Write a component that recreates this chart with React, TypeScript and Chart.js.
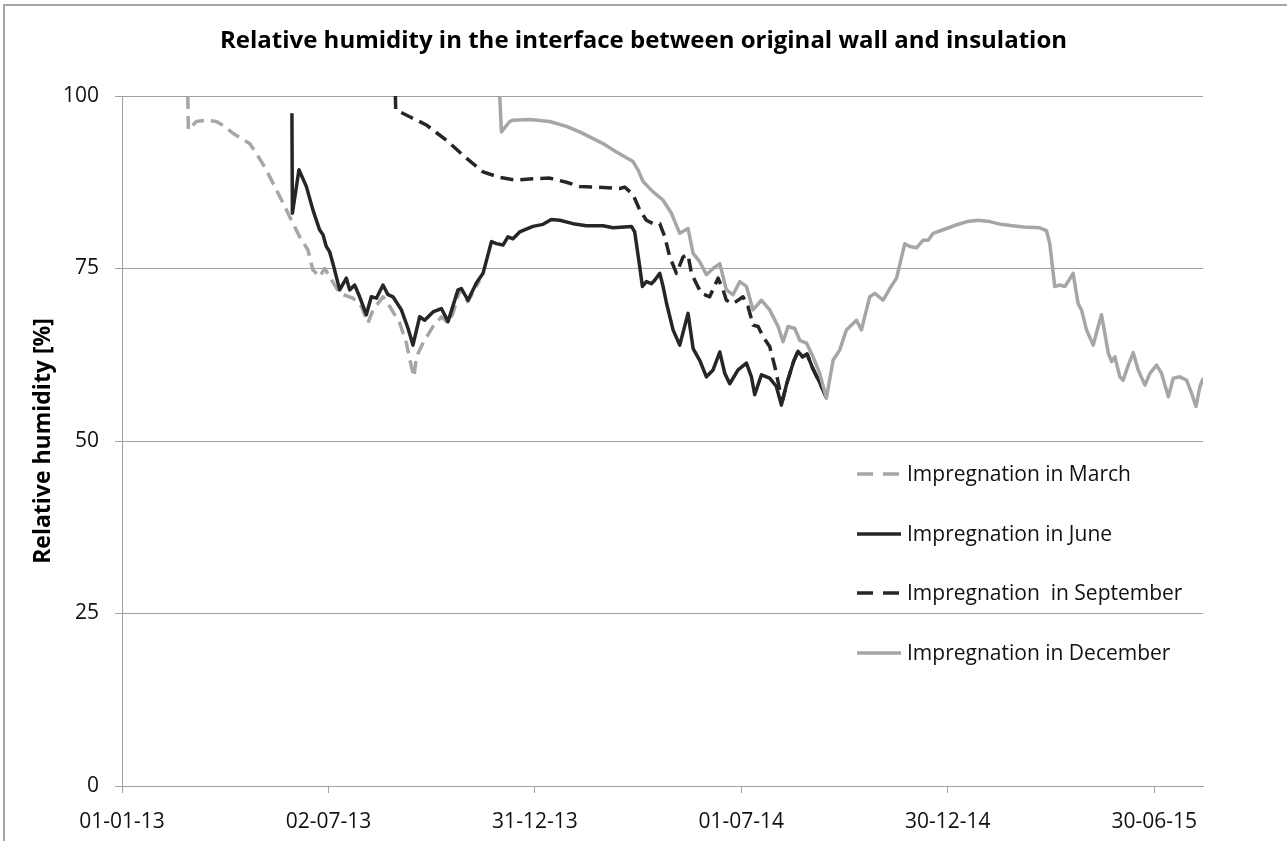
import React, { useEffect, useRef } from "react";
import { Chart, registerables } from "chart.js";

Chart.register(...registerables);

const chartTitle = "Relative humidity in the interface between original wall and insulation";
const yAxisTitle = "Relative humidity [%]";
const seriesLabels = [
  "Impregnation in March",
  "Impregnation in June",
  "Impregnation  in September",
  "Impregnation in December",
];
// x values are days since 01-01-13
const xTickDays = [0, 182, 364, 546, 728, 910];
const xTickLabels = ["01-01-13", "02-07-13", "31-12-13", "01-07-14", "30-12-14", "30-06-15"];
const yTicks = [0, 25, 50, 75, 100];

const marchDays = [58, 58.5, 65.5, 74.3, 83.2, 90.5, 97.8, 112.5, 118.4, 127.2, 136.1, 143.4, 149.3, 156.6, 163.9, 168.3, 174.2, 178.7, 183.1, 191.9, 203.6, 211.0, 216.8, 221.3, 230.1, 236.0, 244.8, 250.7, 255.1, 257.4, 259.5, 265.4, 274.2, 281.6, 287.4, 291.8, 297.7, 305.0, 315.3];
const marchRH = [100, 95.1, 96.3, 96.5, 96.3, 95.6, 94.6, 93.1, 91.7, 89.3, 86.4, 84.0, 82.0, 79.6, 77.7, 74.8, 73.8, 75.0, 73.8, 71.4, 70.7, 69.5, 67.1, 69.0, 70.9, 69.5, 67.1, 64.2, 60.8, 59.3, 62.2, 64.2, 66.6, 68.0, 67.1, 68.5, 71.9, 70.2, 73.3];

const juneDays = [149.8, 150.2, 156.0, 162.5, 168.3, 174.2, 177.2, 180.1, 183.1, 186.0, 191.9, 197.8, 200.7, 205.1, 209.5, 215.4, 219.8, 224.3, 230.1, 234.5, 238.9, 246.3, 252.2, 256.5, 262.4, 266.8, 274.2, 281.6, 287.4, 296.2, 299.2, 305.0, 312.4, 318.3, 325.7, 330.1, 335.9, 340.3, 344.7, 350.6, 362.3, 371.2, 378.5, 385.9, 397.6, 409.4, 424.1, 432.9, 449.1, 452.0, 456.4, 458.8, 462.3, 466.7, 469.6, 474.1, 477.0, 480.0, 485.8, 491.7, 499.0, 503.5, 509.3, 515.2, 521.1, 527.0, 531.4, 535.8, 543.1, 550.5, 554.9, 557.8, 563.7, 571.0, 576.9, 581.3, 586, 592, 596, 600, 604, 609, 615, 621];
const juneRH = [97.5, 83.0, 89.3, 86.9, 83.5, 80.6, 79.9, 78.2, 77.4, 75.7, 71.9, 73.6, 71.9, 72.6, 70.9, 68.3, 70.9, 70.7, 72.6, 71.2, 70.9, 69.0, 66.3, 63.9, 68.0, 67.5, 68.7, 69.2, 67.3, 71.9, 72.1, 70.4, 72.9, 74.3, 78.9, 78.6, 78.4, 79.6, 79.3, 80.3, 81.1, 81.4, 82.1, 82.0, 81.5, 81.2, 81.2, 80.9, 81.1, 80.3, 75.3, 72.4, 73.1, 72.8, 73.3, 74.3, 72.4, 70.0, 66.1, 63.9, 68.5, 63.4, 61.7, 59.3, 60.3, 62.9, 59.8, 58.3, 60.3, 61.3, 59.3, 56.7, 59.6, 59.1, 57.9, 55.2, 58.3, 61.5, 63.0, 62.2, 62.6, 60.5, 58.5, 56.3];

const septDays = [241.0, 241.3, 253.6, 268.3, 285.9, 303.6, 318.3, 333.0, 347.7, 362.3, 377.1, 391.8, 403.5, 418.2, 438.8, 443.2, 450.5, 456.4, 462.3, 468.2, 474.1, 478.5, 482.9, 488.8, 494.7, 499.0, 502.0, 506.4, 510.8, 518.1, 525.5, 529.9, 532.8, 538.7, 547.5, 551.9, 556.3, 560.8, 565.2, 571.0, 575.5, 579.9, 582.5, 586, 592, 596, 600, 604, 609, 615, 621];
const septRH = [100, 98.0, 97.0, 95.8, 93.6, 91.0, 89.0, 88.2, 87.8, 88.0, 88.1, 87.5, 86.9, 86.8, 86.6, 86.8, 85.7, 83.5, 82.0, 81.5, 81.5, 79.6, 76.7, 74.3, 76.7, 77.0, 74.3, 72.8, 71.4, 70.9, 73.6, 71.9, 70.4, 69.9, 70.9, 69.5, 66.8, 66.6, 65.1, 63.7, 60.8, 57.4, 56.0, 58.3, 61.5, 63.0, 62.2, 62.6, 60.5, 58.5, 56.3];

const decDays = [333.0, 334.5, 341.8, 344.7, 359.4, 377.1, 391.8, 403.5, 424.1, 435.9, 450.5, 454.9, 459.4, 468.2, 477.0, 484.4, 491.7, 499.0, 503.5, 509.3, 515.2, 521.1, 527.0, 532.8, 538.7, 544.6, 550.5, 556.3, 563.7, 571.0, 578.4, 582.8, 587.2, 593.1, 597.5, 603.4, 609.2, 615.1, 621.0, 626.9, 632.8, 638.6, 647.5, 651.9, 659.2, 663.7, 671.0, 676.9, 682.8, 690.1, 694.5, 700.4, 706.3, 710.7, 715.1, 726.9, 735, 745, 755, 765, 775, 785, 795, 809.0, 815.0, 817.9, 822.3, 826.7, 831.2, 834.1, 838.5, 842.9, 845.9, 850.3, 856.2, 860.6, 863.5, 866.5, 869.4, 872.4, 875.3, 879.7, 882.6, 887.1, 891.5, 895.9, 901.8, 906.2, 912.1, 916.5, 922.4, 926.8, 932.7, 938.6, 943.0, 946.8, 950.3, 953.2];
const decRH = [100, 94.8, 96.3, 96.5, 96.6, 96.3, 95.6, 94.8, 93.1, 91.9, 90.5, 89.3, 87.6, 86.1, 84.9, 83.0, 80.1, 80.8, 77.2, 76.0, 74.1, 75.0, 75.7, 71.9, 71.2, 73.1, 72.4, 69.0, 70.4, 69.0, 66.6, 64.4, 66.6, 66.3, 64.6, 64.2, 62.2, 59.8, 56.2, 61.7, 63.2, 66.1, 67.5, 66.1, 70.9, 71.4, 70.4, 72.1, 73.6, 78.6, 78.2, 78.0, 79.1, 79.1, 80.1, 80.8, 81.3, 81.8, 82.0, 81.8, 81.4, 81.2, 81.0, 80.9, 80.5, 78.6, 72.4, 72.6, 72.4, 73.1, 74.3, 69.9, 69.0, 66.1, 63.9, 66.6, 68.3, 65.6, 62.8, 61.5, 62.2, 59.3, 58.8, 61.0, 62.8, 60.3, 58.1, 59.8, 61.0, 59.8, 56.4, 59.1, 59.3, 58.8, 56.9, 55.0, 57.9, 59.1];

const LIGHT = "#a6a6a6";
const DARK = "#262626";
const GRID = "#a0a0a0";
const TEXT = "#111111";
const FONT = "'Open Sans', 'DejaVu Sans', sans-serif";

export default function App() {
  const ref = useRef<HTMLCanvasElement>(null);

  useEffect(() => {
    const canvas = ref.current;
    if (!canvas) return;

    const styles = [
      { color: LIGHT, dash: [13, 7], legendDash: [16, 10] },
      { color: DARK, dash: [] as number[], legendDash: [] as number[] },
      { color: DARK, dash: [13, 7], legendDash: [16, 10] },
      { color: LIGHT, dash: [] as number[], legendDash: [] as number[] },
    ];
    const series: [number[], number[]][] = [
      [marchDays, marchRH],
      [juneDays, juneRH],
      [septDays, septRH],
      [decDays, decRH],
    ];

    const datasets = series.map(([d, v], i) => ({
      label: seriesLabels[i],
      data: d.map((x, k) => ({ x, y: v[k] })),
      borderColor: styles[i].color,
      backgroundColor: styles[i].color,
      borderWidth: 3.5,
      borderDash: styles[i].dash,
      borderJoinStyle: "round" as const,
      pointRadius: 0,
      tension: 0,
      fill: false,
      order: 3 - i,
      yAxisID: "y",
    }));

    const framePlugin = {
      id: "frame",
      beforeDraw(chart: any) {
        const c = chart.ctx;
        c.save();
        c.fillStyle = "#ffffff";
        c.fillRect(0, 0, chart.width, chart.height);
        c.strokeStyle = "#a6a6a6";
        c.lineWidth = 2;
        c.beginPath();
        c.moveTo(4, chart.height);
        c.lineTo(4, 5);
        c.lineTo(chart.width, 5);
        c.stroke();
        c.restore();
      },
    };

    const legendRows = [474, 534, 593, 653];
    const legendPlugin = {
      id: "insideLegend",
      afterDraw(chart: any) {
        const c = chart.ctx;
        c.save();
        seriesLabels.forEach((label, i) => {
          const y = legendRows[i];
          c.strokeStyle = styles[i].color;
          c.lineWidth = 3.5;
          c.setLineDash(styles[i].legendDash);
          c.beginPath();
          c.moveTo(857, y);
          c.lineTo(901, y);
          c.stroke();
          c.setLineDash([]);
          c.fillStyle = TEXT;
          c.font = `21px ${FONT}`;
          c.textAlign = "left";
          c.textBaseline = "middle";
          c.fillText(label, 907, y + 1);
        });
        c.restore();
      },
    };

    const tickFont = { family: FONT, size: 21 };

    const chart = new Chart(canvas, {
      type: "line",
      data: { datasets },
      options: {
        animation: false,
        responsive: false,
        devicePixelRatio: 1,
        layout: { padding: 0 },
        plugins: {
          legend: { display: false },
          tooltip: { enabled: false },
          title: {
            display: true,
            text: chartTitle,
            color: "#000000",
            font: { family: FONT, size: 24, weight: "bold", lineHeight: 1.2 },
            padding: { top: 26.6, bottom: 40.6 },
          },
        },
        scales: {
          x: {
            type: "linear",
            min: 0,
            max: 953,
            afterBuildTicks: (s: any) => {
              s.ticks = xTickDays.map((v) => ({ value: v }));
            },
            afterFit: (s: any) => {
              s.height = 55;
            },
            grid: { drawOnChartArea: false, drawTicks: true, tickLength: 7, color: GRID },
            border: { color: GRID, width: 1 },
            ticks: {
              padding: 16,
              maxRotation: 0,
              autoSkip: false,
              color: TEXT,
              font: tickFont,
              callback: (_v: any, idx: number) => xTickLabels[idx] ?? "",
            },
          },
          y: {
            type: "linear",
            min: 0,
            max: 100,
            afterBuildTicks: (s: any) => {
              s.ticks = yTicks.map((v) => ({ value: v }));
            },
            afterFit: (s: any) => {
              s.width = 122;
            },
            grid: { color: GRID, tickLength: 7, lineWidth: 1 },
            border: { color: GRID, width: 1 },
            ticks: { padding: 16, color: TEXT, font: tickFont },
            title: {
              display: true,
              text: yAxisTitle,
              color: "#000000",
              font: { family: FONT, size: 23, weight: "bold", lineHeight: 1.2 },
              padding: { top: 30, bottom: 0 },
            },
          },
          yR: {
            type: "linear",
            position: "right",
            display: true,
            afterFit: (s: any) => {
              s.width = 84;
            },
            grid: { display: false, drawTicks: false },
            border: { display: false },
            ticks: { display: false },
          },
        },
      },
      plugins: [framePlugin, legendPlugin],
    } as any);

    return () => chart.destroy();
  }, []);

  return (
    <div style={{ position: "absolute", left: 0, top: 0, width: 1287, height: 841, background: "#ffffff" }}>
      <canvas ref={ref} width={1287} height={841} style={{ display: "block", width: 1287, height: 841 }} />
    </div>
  );
}
